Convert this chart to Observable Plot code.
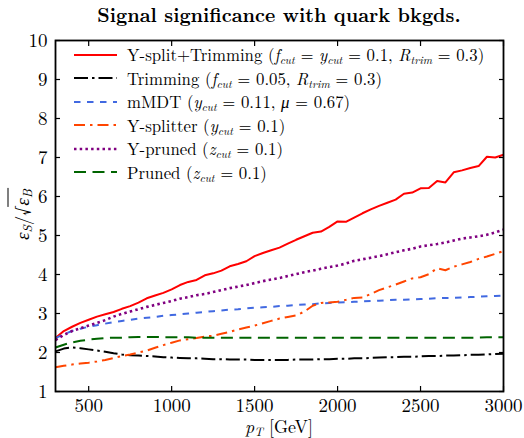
<!DOCTYPE html>
<html><head><meta charset="utf-8">
<script src="https://cdn.jsdelivr.net/npm/d3@7"></script>
<script src="https://cdn.jsdelivr.net/npm/@observablehq/plot@0.6"></script>
<style>
body{margin:0;background:#fff;font-family:'Latin Modern Roman','Liberation Serif',serif;}
#wrap{position:relative;width:524px;height:438px;color:#000;overflow:hidden;}
#wrap > svg{position:absolute;left:0;top:0;}
.ov{position:absolute;white-space:nowrap;line-height:1;font-family:'Latin Modern Roman','Liberation Serif',serif;}
#title{left:0;width:558px;top:5px;text-align:center;font-weight:bold;font-size:19.5px;}
#xlab{left:0;width:558px;top:417px;text-align:center;font-size:18px;}
#ylab{left:19px;top:214px;font-size:19px;transform:translate(-50%,-50%) rotate(-90deg);}
#legend{left:74px;top:43px;font-size:16.8px;}
.row{height:23.5px;display:flex;align-items:center;}
.row svg{margin-right:10px;}
sub{font-size:68%;vertical-align:-0.25em;line-height:0;font-style:italic;}
.sq{display:inline-block;border-top:1px solid #000;padding:3px 1px 0 1px;line-height:1;}
</style></head><body><div id="wrap"></div>
<script>
const pT = [300,350,400,450,500,550,600,650,700,750,800,850,900,950,1000,1050,1100,1150,1200,1250,1300,1350,1400,1450,1500,1550,1600,1650,1700,1750,1800,1850,1900,1950,2000,2050,2100,2150,2200,2250,2300,2350,2400,2450,2500,2550,2600,2650,2700,2750,2800,2850,2900,2950,3000];
const ysplitTrim = [2.37,2.55,2.66,2.76,2.84,2.92,2.98,3.04,3.12,3.19,3.28,3.39,3.46,3.53,3.62,3.73,3.81,3.86,3.98,4.03,4.10,4.21,4.27,4.34,4.47,4.55,4.62,4.69,4.79,4.89,4.98,5.07,5.10,5.22,5.36,5.35,5.46,5.57,5.67,5.76,5.84,5.92,6.07,6.10,6.21,6.22,6.40,6.36,6.62,6.67,6.73,6.78,7.02,7.00,7.07];
const trimming = [2.03,2.10,2.13,2.11,2.08,2.05,2.02,1.98,1.95,1.93,1.92,1.91,1.90,1.88,1.87,1.86,1.85,1.85,1.84,1.83,1.83,1.82,1.82,1.82,1.81,1.81,1.81,1.81,1.81,1.82,1.82,1.82,1.83,1.83,1.84,1.84,1.85,1.85,1.86,1.87,1.88,1.88,1.89,1.89,1.90,1.91,1.91,1.92,1.92,1.93,1.94,1.94,1.95,1.96,1.97];
const mmdt = [2.37,2.47,2.55,2.61,2.66,2.70,2.74,2.78,2.81,2.84,2.87,2.89,2.91,2.94,2.96,2.98,3.00,3.02,3.04,3.06,3.08,3.10,3.11,3.13,3.15,3.16,3.17,3.19,3.20,3.22,3.23,3.24,3.26,3.27,3.28,3.29,3.30,3.31,3.32,3.33,3.34,3.35,3.35,3.36,3.37,3.38,3.39,3.40,3.40,3.41,3.42,3.43,3.44,3.45,3.46];
const ysplitter = [1.62,1.66,1.69,1.72,1.74,1.77,1.81,1.86,1.91,1.95,2.00,2.05,2.12,2.19,2.25,2.31,2.34,2.37,2.41,2.43,2.48,2.53,2.59,2.64,2.69,2.75,2.81,2.87,2.91,2.95,3.05,3.20,3.27,3.28,3.30,3.35,3.40,3.41,3.50,3.60,3.67,3.74,3.82,3.90,3.93,4.01,4.16,4.11,4.20,4.26,4.32,4.40,4.46,4.53,4.60];
const ypruned = [2.32,2.45,2.55,2.62,2.69,2.76,2.83,2.92,2.99,3.05,3.11,3.17,3.22,3.27,3.32,3.38,3.42,3.47,3.50,3.55,3.60,3.65,3.69,3.73,3.78,3.83,3.87,3.91,3.96,4.01,4.06,4.10,4.15,4.19,4.23,4.28,4.35,4.39,4.43,4.47,4.52,4.57,4.62,4.66,4.72,4.75,4.78,4.82,4.87,4.92,4.95,4.98,5.02,5.08,5.15];
const pruned = [2.13,2.20,2.26,2.30,2.33,2.35,2.37,2.38,2.38,2.39,2.40,2.40,2.40,2.39,2.39,2.39,2.39,2.38,2.38,2.38,2.38,2.38,2.38,2.38,2.38,2.38,2.38,2.38,2.38,2.38,2.38,2.38,2.38,2.38,2.38,2.38,2.38,2.38,2.38,2.38,2.38,2.38,2.38,2.38,2.38,2.38,2.38,2.38,2.38,2.38,2.38,2.38,2.39,2.39,2.39];
const xTicks = [500,1000,1500,2000,2500,3000];
const yTicks = [1,2,3,4,5,6,7,8,9,10];
const labels = [
  'Y-split+Trimming (<i>f</i><sub>cut</sub> = <i>y</i><sub>cut</sub> = 0.1, <i>R</i><sub>trim</sub> = 0.3)',
  'Trimming (<i>f</i><sub>cut</sub> = 0.05, <i>R</i><sub>trim</sub> = 0.3)',
  'mMDT (<i>y</i><sub>cut</sub> = 0.11, <i>μ</i> = 0.67)',
  'Y-splitter (<i>y</i><sub>cut</sub> = 0.1)',
  'Y-pruned (<i>z</i><sub>cut</sub> = 0.1)',
  'Pruned (<i>z</i><sub>cut</sub> = 0.1)'
];
const seriesValues = [ysplitTrim, trimming, mmdt, ysplitter, ypruned, pruned];
const styles = [
  {stroke:"#ff0000", dash:null, w:2},
  {stroke:"#000000", dash:"14,4,2.5,4", w:2},
  {stroke:"#4169e1", dash:"6.5,6.5", w:2},
  {stroke:"#ff4500", dash:"11,5,2.5,5", w:2},
  {stroke:"#800080", dash:"2.5,3.2", w:2.6},
  {stroke:"#006400", dash:"12,6.5", w:2}
];
const FONT = "'Latin Modern Roman', 'Liberation Serif', serif";
const lineMarks = seriesValues.map((vals, i) => Plot.line(
  pT.map((x, j) => ({x, y: vals[j]})),
  {x:"x", y:"y", stroke: styles[i].stroke, strokeWidth: styles[i].w,
   strokeDasharray: styles[i].dash || undefined, strokeLinecap:"butt", strokeLinejoin:"round"}));

const chart = Plot.plot({
  width: 524, height: 438,
  marginTop: 40, marginBottom: 47, marginLeft: 55, marginRight: 21,
  style: {fontFamily: FONT, fontSize: "19px", background: "white", color: "black"},
  x: {domain: [300, 3000]},
  y: {domain: [1, 10]},
  marks: [
    ...lineMarks,
    Plot.axisX({ticks: xTicks, anchor: "bottom", tickSize: 0, tickPadding: 7, label: null, tickFormat: d => String(d)}),
    Plot.axisY({ticks: yTicks, anchor: "left", tickSize: 0, tickPadding: 8, label: null, tickFormat: d => String(d)}),
    Plot.axisX({ticks: xTicks, anchor: "bottom", tickSize: -5, label: null, tickFormat: () => "", strokeWidth: 1.2}),
    Plot.axisX({ticks: xTicks, anchor: "top", tickSize: -5, label: null, tickFormat: () => "", strokeWidth: 1.2}),
    Plot.axisY({ticks: yTicks, anchor: "left", tickSize: -5, label: null, tickFormat: () => "", strokeWidth: 1.2}),
    Plot.axisY({ticks: yTicks, anchor: "right", tickSize: -5, label: null, tickFormat: () => "", strokeWidth: 1.2}),
    Plot.frame({stroke: "black", strokeWidth: 1.8})
  ]
});
chart.style.fontFamily = FONT;
const wrap = document.getElementById("wrap");
wrap.appendChild(chart);

function addDiv(id, html) { const d = document.createElement("div"); d.className = "ov"; d.id = id; d.style.fontFamily = FONT; d.innerHTML = html; wrap.appendChild(d); return d; }
addDiv("title", "Signal significance with quark bkgds.");
addDiv("xlab", '<i>p</i><sub>T</sub> [GeV]');
addDiv("ylab", '<i>ε</i><sub>S</sub>/√<span class="sq"><i>ε</i><sub>B</sub></span>');
const leg = addDiv("legend", "");
labels.forEach((lab, i) => {
  const row = document.createElement("div"); row.className = "row";
  const s = styles[i];
  row.innerHTML = `<svg width="43" height="10"><line x1="0" x2="43" y1="5" y2="5" stroke="${s.stroke}" stroke-width="${s.w}" ${s.dash ? `stroke-dasharray="${s.dash}"` : ""}/></svg><span>${lab}</span>`;
  leg.appendChild(row);
});
</script></body></html>
